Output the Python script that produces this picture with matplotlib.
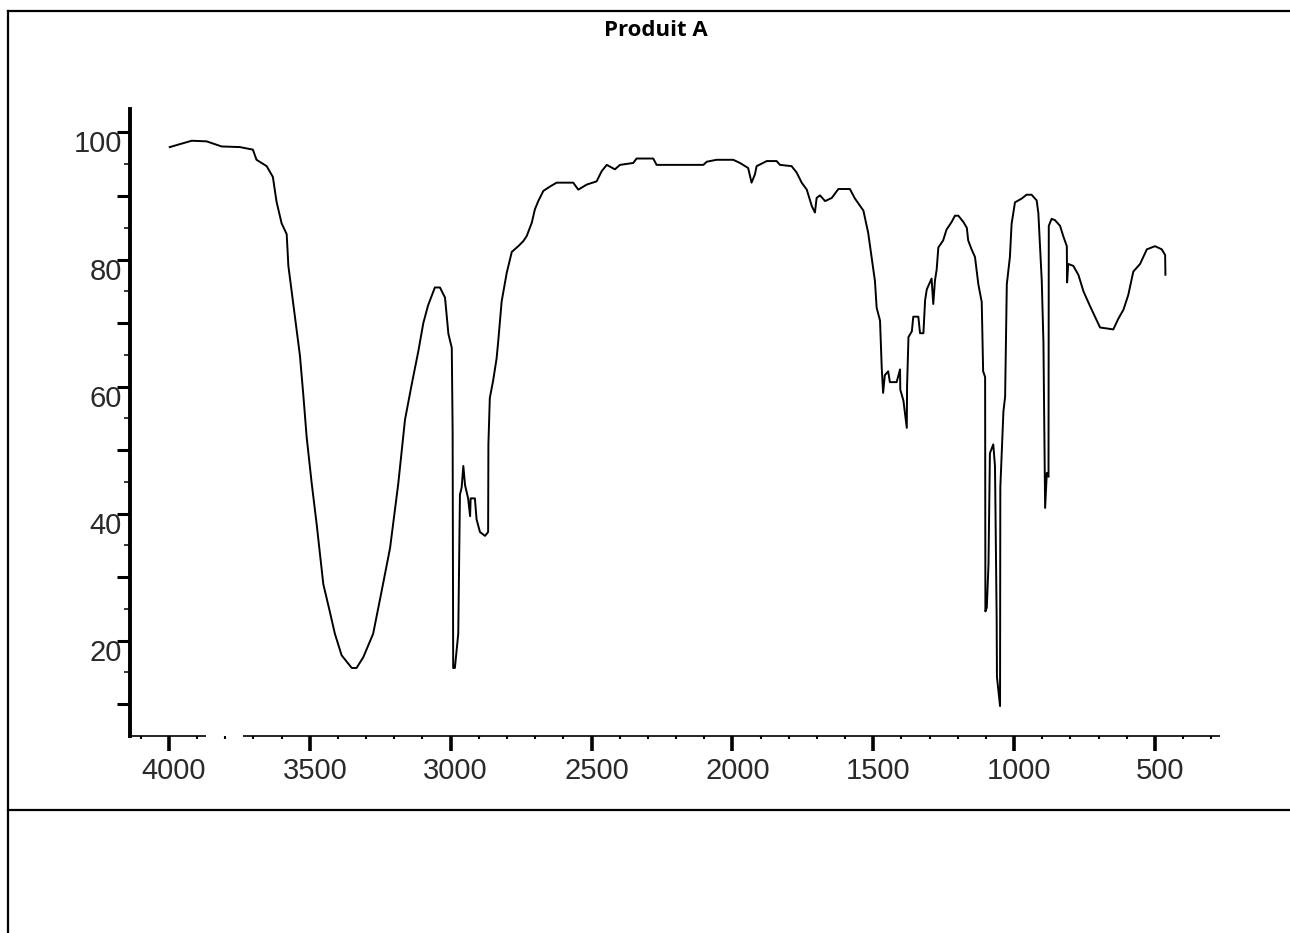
import matplotlib
matplotlib.use("Agg")
import matplotlib.pyplot as plt
from matplotlib.lines import Line2D
from matplotlib.transforms import ScaledTranslation

# IR spectrum of "Produit A"
wavenumber = [3997, 3919, 3866, 3813, 3748, 3702, 3689, 3653, 3631, 3618, 3600, 3582, 3576, 3553,
              3535, 3523, 3511, 3493, 3476, 3452, 3428, 3411, 3387, 3351, 3334, 3310, 3275, 3245,
              3215, 3186, 3162, 3138, 3115, 3097, 3080, 3056, 3038, 3020, 3008, 2996, 2993, 2991,
              2985, 2973, 2967, 2961, 2955, 2949, 2938, 2931, 2929, 2914, 2908, 2896, 2878, 2867,
              2866, 2861, 2849, 2837, 2831, 2819, 2801, 2783, 2760, 2742, 2730, 2712, 2701, 2689,
              2671, 2647, 2624, 2565, 2547, 2517, 2482, 2464, 2446, 2417, 2399, 2352, 2340, 2281,
              2269, 2103, 2091, 2056, 1997, 1973, 1944, 1932, 1920, 1914, 1878, 1843, 1831, 1790,
              1772, 1754, 1736, 1718, 1707, 1701, 1689, 1671, 1647, 1624, 1583, 1565, 1535, 1518,
              1506, 1494, 1488, 1476, 1470, 1465, 1459, 1447, 1441, 1417, 1405, 1404, 1393, 1381,
              1380, 1375, 1363, 1358, 1340, 1334, 1322, 1316, 1310, 1293, 1287, 1281, 1275, 1269,
              1252, 1240, 1222, 1210, 1198, 1180, 1168, 1163, 1151, 1139, 1127, 1115, 1110, 1103,
              1102, 1097, 1091, 1086, 1074, 1068, 1067, 1062, 1061, 1050, 1049, 1038, 1032, 1026,
              1015, 1009, 997, 973, 956, 938, 920, 914, 908, 902, 896, 890, 884, 878,
              877, 867, 855, 837, 825, 813, 812, 808, 790, 772, 754, 731, 713, 695,
              648, 630, 612, 595, 577, 553, 529, 500, 476, 464, 463]
transmittance = [97.7, 98.7, 98.6, 97.8, 97.7, 97.3, 95.7, 94.7, 93.0, 89.1, 85.7, 84.0, 79.0, 71.1,
                 64.9, 58.7, 52.0, 44.7, 38.5, 28.9, 24.4, 21.1, 17.7, 15.7, 15.7, 17.4, 21.1, 27.8,
                 34.6, 44.7, 54.8, 60.4, 65.5, 70.0, 72.8, 75.6, 75.6, 74.0, 68.3, 66.1, 53.1, 15.7,
                 15.7, 21.1, 43.0, 44.1, 47.5, 44.5, 42.4, 39.6, 42.4, 42.4, 39.1, 37.1, 36.5, 37.1,
                 50.9, 58.2, 61.0, 64.4, 67.2, 73.4, 77.9, 81.2, 82.1, 82.9, 83.7, 85.8, 87.9, 89.2,
                 90.8, 91.5, 92.1, 92.1, 91.0, 91.8, 92.3, 93.9, 94.9, 94.2, 94.9, 95.2, 95.9, 95.9,
                 94.9, 94.9, 95.4, 95.7, 95.7, 95.2, 94.4, 92.1, 93.4, 94.7, 95.5, 95.5, 94.9, 94.7,
                 93.7, 92.1, 91.0, 88.4, 87.4, 89.7, 90.1, 89.2, 89.7, 91.1, 91.1, 89.6, 87.7, 84.2,
                 80.4, 76.6, 72.4, 70.4, 63.0, 59.0, 61.8, 62.4, 60.7, 60.7, 62.7, 59.5, 57.8, 53.5,
                 60.1, 67.8, 68.7, 71.0, 71.0, 68.4, 68.4, 73.6, 75.3, 77.0, 73.0, 76.7, 78.4, 81.9,
                 83.0, 84.7, 85.9, 86.9, 86.9, 85.9, 85.0, 83.0, 81.6, 80.4, 76.1, 73.3, 62.4, 61.5,
                 24.6, 25.2, 32.0, 49.5, 50.9, 47.5, 43.8, 23.4, 14.3, 9.7, 44.1, 56.1, 58.4, 76.1,
                 80.4, 85.6, 89.0, 89.6, 90.2, 90.2, 89.3, 87.3, 81.9, 76.7, 67.0, 40.9, 46.4, 45.8,
                 85.3, 86.4, 86.2, 85.3, 83.6, 82.1, 76.4, 79.3, 79.0, 77.6, 75.0, 72.7, 71.0, 69.3,
                 69.0, 70.7, 72.1, 74.4, 78.1, 79.3, 81.6, 82.1, 81.6, 80.7, 77.6]

x_ticks = [4000, 3500, 3000, 2500, 2000, 1500, 1000, 500]
x_minor = list(range(4100, 200, -100))
y_ticks = [10, 20, 30, 40, 50, 60, 70, 80, 90, 100]
y_labels = ["", "20", "", "40", "", "60", "", "80", "", "100"]
y_minor = [15, 25, 35, 45, 55, 65, 75, 85, 95]
title = "Produit A"

label_font = ["Liberation Sans", "DejaVu Sans"]

fig = plt.figure(figsize=(12.9, 9.33), dpi=100)
ax = fig.add_axes([0.1008, 0.2112, 0.8450, 0.6720])

ax.plot(wavenumber, transmittance, color="black", lw=1.4)

ax.set_xlim(4138, 269)
ax.set_ylim(5.0, 103.7)

# only the left axis is a real spine; the bottom axis line is broken near 3800 like the original
for side in ["top", "right", "bottom"]:
    ax.spines[side].set_visible(False)
ax.spines["left"].set_linewidth(2.8)
ax.hlines(0, 4138, 3870, transform=ax.get_xaxis_transform(), color="black", lw=1.2, clip_on=False)
ax.hlines(0, 3737, 269, transform=ax.get_xaxis_transform(), color="black", lw=1.2, clip_on=False)

ax.set_xticks(x_ticks, [str(t) for t in x_ticks])
ax.set_xticks(x_minor, minor=True)
ax.set_yticks(y_ticks, y_labels)
ax.set_yticks(y_minor, minor=True)

ax.tick_params(axis="x", which="major", direction="out", length=11, width=2.6, pad=4,
               labelsize=21, color="black")
ax.tick_params(axis="x", which="minor", direction="out", length=2, width=1.5, color="black")
ax.tick_params(axis="y", which="major", direction="out", length=9.5, width=2.2, pad=-3.5,
               labelsize=21, color="black")
ax.tick_params(axis="y", which="minor", direction="out", length=4.5, width=1.1, color="black")

# tick labels sit a little right of / below their ticks in the original
shift_x = ScaledTranslation(0.05, 0, fig.dpi_scale_trans)
shift_y = ScaledTranslation(0, -0.09, fig.dpi_scale_trans)
for lbl in ax.get_xticklabels():
    lbl.set_family(label_font)
    lbl.set_color("#2a2a2a")
    lbl.set_transform(lbl.get_transform() + shift_x)
for lbl in ax.get_yticklabels():
    lbl.set_family(label_font)
    lbl.set_color("#2a2a2a")
    lbl.set_transform(lbl.get_transform() + shift_y)

fig.text(0.5085, 1 - 36 / 933, title, ha="center", va="baseline",
         fontsize=16, fontweight="bold", family=["Open Sans", "DejaVu Sans"])

# table cell borders around the chart
border = dict(color="black", lw=1.6, transform=fig.transFigure)
fig.add_artist(Line2D([8 / 1290, 1.0], [1 - 11 / 933, 1 - 11 / 933], **border))
fig.add_artist(Line2D([8 / 1290, 8 / 1290], [0.0, 1 - 11 / 933], **border))
fig.add_artist(Line2D([8 / 1290, 1.0], [1 - 810 / 933, 1 - 810 / 933], **border))

fig.savefig("out.png", dpi=100)
